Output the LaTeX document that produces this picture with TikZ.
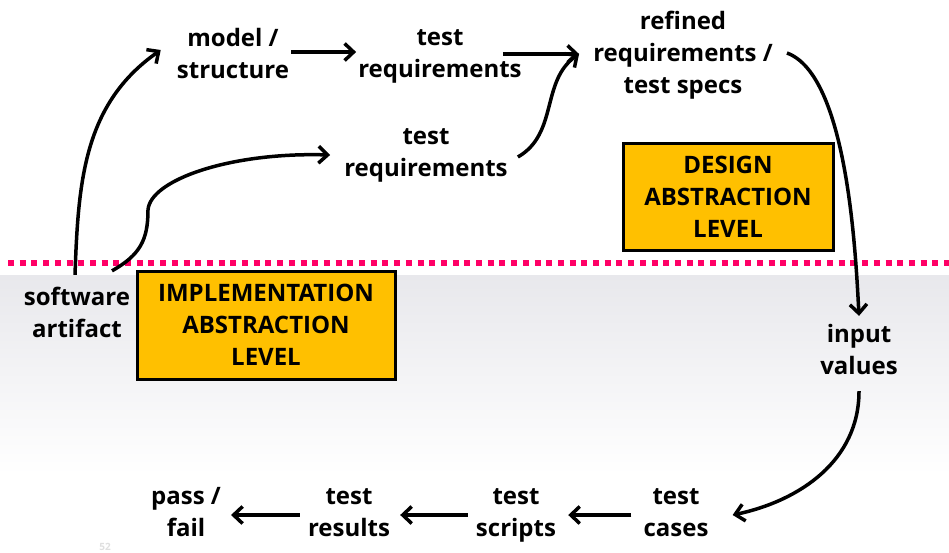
\documentclass[tikz,border=0pt]{standalone}
\usepackage{fontspec}
\setmainfont{Open Sans}
\usepackage{tikz}
\usetikzlibrary{arrows.meta}
\definecolor{levelfill}{RGB}{255,192,0}
\definecolor{splitpink}{RGB}{255,0,102}
\definecolor{floorgray}{RGB}{232,232,236}
\tikzset{>={Straight Barb[length=9pt,width=17pt]}}
\tikzset{bigtext/.style = {align=center,inner sep=2pt,font=\fontsize{24}{32}\selectfont\bfseries}}
\tikzset{item/.style = {bigtext,yshift=-4pt,execute at begin node=\strut,execute at end node=\strut}}
\tikzset{levelbox/.style = {bigtext,draw,line width=3pt,fill=levelfill,minimum width=#1}}
\tikzset{edge/.style = {->,line width=3.5pt}}

\begin{document}
\begin{tikzpicture}[x=1pt,y=1pt]
            \useasboundingbox (0,0) rectangle (949,-552);

            % Background
            \shade[top color=floorgray,bottom color=white] (0,-275) rectangle (949,-475);
            \draw[splitpink,line width=5.7pt,dash pattern=on 6pt off 5.7pt] (8,-263) -- (949,-263);
            \node[gray!25,font=\fontsize{10}{12}\selectfont\bfseries] (page) at (105,-547) {52};

            % Levels
            \node[levelbox=210pt,minimum height=107pt] (design) at (728,-196.5) {DESIGN\\ABSTRACTION\\LEVEL};
            \node[levelbox=258pt,minimum height=108pt] (impl) at (266,-325) {IMPLEMENTATION\\ABSTRACTION\\LEVEL};

            % Vertices
            \node[item] (sw) at (77,-313) {software\\artifact};
            \node[item] (model) at (233,-54) {model /\\structure};
            \node[item] (treqA) at (440,-54) {test\\requirements};
            \node[item] (treqB) at (426,-153) {test\\requirements};
            \node[item] (refined) at (683,-53) {refined\\requirements /\\test specs};
            \node[item] (input) at (859,-350) {input\\values};
            \node[item] (cases) at (676,-513) {test\\cases};
            \node[item] (scripts) at (516,-513) {test\\scripts};
            \node[item] (results) at (349,-513) {test\\results};
            \node[item] (verdict) at (186,-513) {pass /\\fail};

            % Edges
            % software artifact
            \draw[edge] ([xshift=-2pt,yshift=10pt]sw.north) to[out=88,in=215] ([xshift=-14pt,yshift=8pt]model.west);
            \draw[edge] ([xshift=35pt,yshift=14pt]sw.north) .. controls (140,-255) and (148,-240) .. (148,-210)
                .. controls (150,-180) and (230,-152) .. ([xshift=-12pt,yshift=2pt]treqB.west);

            % top row
            \draw[edge] ([yshift=6pt]model.east) -- ([yshift=6pt]treqA.west);
            \draw[edge] ([xshift=-21pt,yshift=4pt]treqA.east) -- ([xshift=-12pt,yshift=3pt]refined.west);
            \draw[edge] ([xshift=8pt]treqB.east) to[out=30,in=215] ([xshift=-12pt,yshift=3pt]refined.west);

            % down the right side
            \draw[edge] ([xshift=12pt,yshift=4pt]refined.east) to[out=-20,in=93,looseness=0.6] ([yshift=6pt]input.north);
            \draw[edge] ([yshift=-5pt]input.south) to[out=-90,in=12] ([xshift=22pt,yshift=2pt]cases.east);

            % bottom row
            \draw[edge] ([xshift=-10pt,yshift=2pt]cases.west) -- ([xshift=10pt,yshift=2pt]scripts.east);
            \draw[edge] ([xshift=-6pt,yshift=2pt]scripts.west) -- ([xshift=8pt,yshift=2pt]results.east);
            \draw[edge] ([xshift=-6pt,yshift=2pt]results.west) -- ([xshift=8pt,yshift=2pt]verdict.east);
        \end{tikzpicture}
\end{document}
